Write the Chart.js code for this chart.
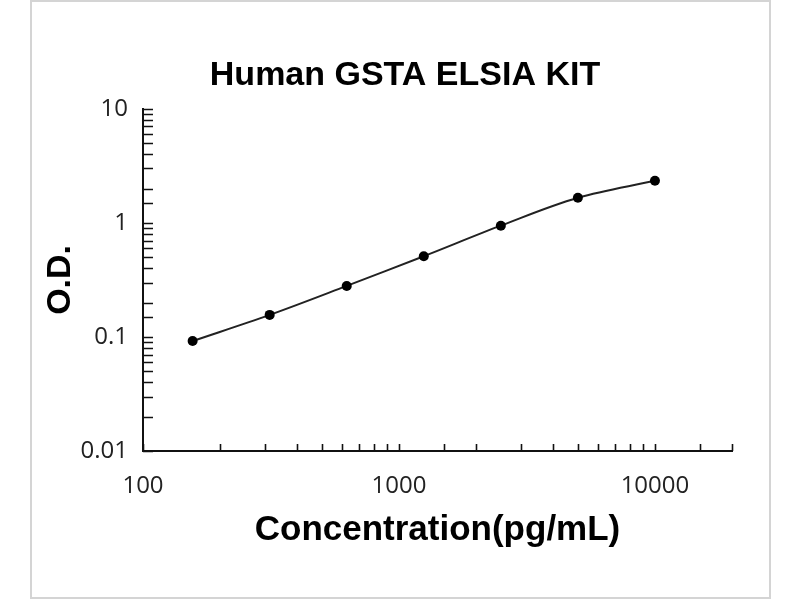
<!DOCTYPE html>
<html>
<head>
<meta charset="utf-8">
<script src="https://cdn.jsdelivr.net/npm/chart.js@4"></script>
<style>
  html, body { margin: 0; padding: 0; background: #fff; }
  #wrap { position: relative; width: 800px; height: 600px; }
  #frame { position: absolute; left: 30px; top: 0px; width: 737px; height: 595px; border: 2px solid #d4d4d4; pointer-events: none; }
  canvas { position: absolute; left: 0; top: 0; }
</style>
</head>
<body>
<div id="wrap">
  <canvas id="myChart" width="800" height="600"></canvas>
  <div id="frame"></div>
</div>
<script>
// standard curve values
var concentrations = [156.25, 312.5, 625, 1250, 2500, 5000, 10000];
var od             = [0.092, 0.156, 0.28, 0.51, 0.945, 1.66, 2.34];

var xMin = 100, xMax = 20000;
var yMin = 0.01, yMax = 10;

var titre   = 'Human GSTA ELSIA KIT';
var titreX  = 'Concentration(pg/mL)';
var titreY  = 'O.D.';

var points = concentrations.map(function(c, i) {
    return { x: c, y: od[i] };
});

function estPuissanceDeDix(v) {
    var l = Math.log10(v);
    return Math.abs(l - Math.round(l)) < 1e-9;
}

// ticks drawn inside the plot area, like Excel
var ticksInterieurs = {
    id: 'ticksInterieurs',
    afterDraw: function(chart) {
        var ctx = chart.ctx;
        var area = chart.chartArea;
        var sx = chart.scales.x, sy = chart.scales.y;
        ctx.save();
        ctx.strokeStyle = '#111';
        ctx.lineWidth = 1.6;
        ctx.beginPath();
        sx.ticks.forEach(function(t) {
            var px = Math.round(sx.getPixelForValue(t.value)) + 0.5;
            ctx.moveTo(px, area.bottom);
            ctx.lineTo(px, area.bottom - 7);
        });
        sy.ticks.forEach(function(t) {
            var py = Math.round(sy.getPixelForValue(t.value)) + 0.5;
            ctx.moveTo(area.left, py);
            ctx.lineTo(area.left + 10, py);
        });
        ctx.stroke();
        ctx.restore();
    }
};

var canvas  = document.getElementById('myChart');
var context = canvas.getContext('2d');

var myChart = new Chart(context, {
    type: 'scatter',
    data: {
        datasets: [{
            data: points,
            showLine: true,
            borderColor: '#222',
            borderWidth: 2,
            backgroundColor: '#000',
            pointRadius: 5,
            pointBorderWidth: 0,
            tension: 0.35
        }]
    },
    plugins: [ticksInterieurs],
    options: {
        responsive: false,
        animation: false,
        events: [],
        // left padding shifts the centred title to the right, the y axis is narrowed to match
        layout: { padding: { left: 78, right: 68, top: 0, bottom: 0 } },
        plugins: {
            legend: { display: false },
            tooltip: { enabled: false },
            title: {
                display: true,
                text: titre,
                color: '#000',
                font: { family: 'Liberation Sans', size: 34, weight: 'bold' },
                padding: { top: 55, bottom: 13 }
            }
        },
        scales: {
            x: {
                type: 'logarithmic',
                min: xMin,
                max: xMax,
                afterFit: function(scale) { scale.height = 149; },
                grid: { display: false, drawTicks: false },
                border: { display: true, color: '#111', width: 2 },
                ticks: {
                    autoSkip: false,
                    maxRotation: 0,
                    padding: 21,
                    color: '#222',
                    font: { family: 'Open Sans', size: 24 },
                    callback: function(v) { return estPuissanceDeDix(v) ? String(v) : ''; }
                },
                title: {
                    display: true,
                    text: titreX,
                    color: '#000',
                    font: { family: 'Liberation Sans', size: 35, weight: 'bold' },
                    padding: { top: 0, bottom: 49 }
                }
            },
            y: {
                type: 'logarithmic',
                min: yMin,
                max: yMax,
                afterFit: function(scale) { scale.width = 65; },
                grid: { display: false, drawTicks: false },
                border: { display: true, color: '#111', width: 2 },
                ticks: {
                    autoSkip: false,
                    padding: 15,
                    color: '#222',
                    font: { family: 'Open Sans', size: 24 },
                    callback: function(v) { return estPuissanceDeDix(v) ? String(v) : ''; }
                },
                title: {
                    display: true,
                    text: titreY,
                    color: '#000',
                    font: { family: 'Liberation Sans', size: 34, weight: 'bold' },
                    padding: { top: -38, bottom: 0 }
                }
            }
        }
    }
});
</script>
</body>
</html>
